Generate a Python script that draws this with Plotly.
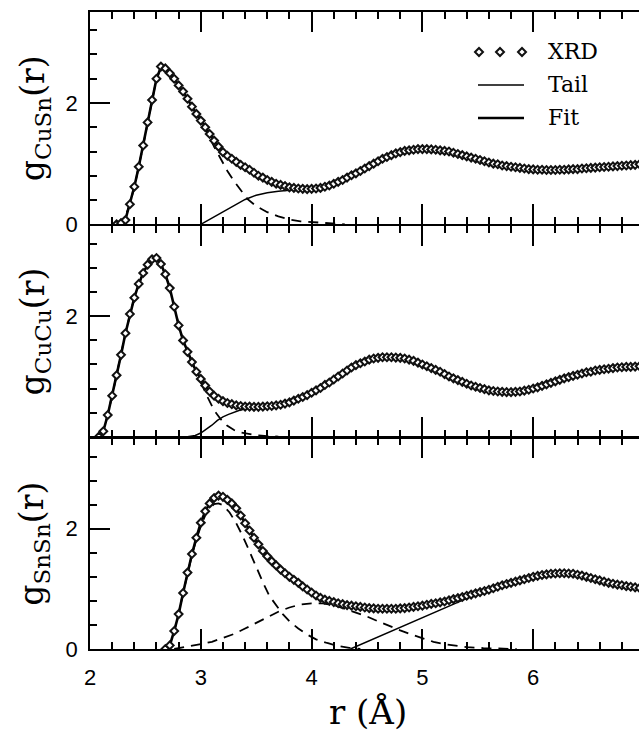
import plotly.graph_objects as go

# ---------------- data ----------------
R_STEP = 0.04

# g_CuSn(r)  XRD, r from 2.24 in steps of 0.04
cusn_r0 = 2.24
g_cusn_xrd = [
    0.00, 0.02, 0.07, 0.33, 0.62, 0.95, 1.30, 1.68, 2.05, 2.40,
    2.60, 2.57, 2.49, 2.40, 2.29, 2.19, 2.07, 1.94, 1.82, 1.71,
    1.60, 1.49, 1.38, 1.28, 1.19, 1.13, 1.08, 1.03, 0.98, 0.94,
    0.90, 0.85, 0.80, 0.77, 0.73, 0.70, 0.67, 0.65, 0.63, 0.61,
    0.60, 0.59, 0.585, 0.58, 0.585, 0.59, 0.60, 0.62, 0.64, 0.67,
    0.70, 0.73, 0.77, 0.81, 0.84, 0.88, 0.92, 0.96, 1.00, 1.04,
    1.08, 1.11, 1.14, 1.17, 1.19, 1.21, 1.22, 1.23, 1.24, 1.24,
    1.24, 1.235, 1.23, 1.22, 1.21, 1.20, 1.18, 1.16, 1.14, 1.12,
    1.10, 1.08, 1.06, 1.04, 1.02, 1.00, 0.99, 0.97, 0.96, 0.95,
    0.94, 0.93, 0.92, 0.91, 0.905, 0.90, 0.90, 0.895, 0.895, 0.895,
    0.90, 0.90, 0.905, 0.91, 0.91, 0.92, 0.925, 0.93, 0.935, 0.94,
    0.945, 0.95, 0.955, 0.96, 0.965, 0.97, 0.975, 0.98, 0.99,
]
cusn_fit_r = [2.24, 2.28, 2.32, 2.36, 2.40, 2.44, 2.48, 2.52, 2.56, 2.60,
              2.64, 2.68, 2.72, 2.76, 2.80, 2.86, 2.92, 2.98, 3.04, 3.10, 3.16,
              3.24, 3.32, 3.40, 3.50, 3.60, 3.70, 3.80, 3.90, 4.00,
              4.10, 4.20, 4.30, 4.40, 4.50, 4.60, 4.70, 4.80, 4.90, 5.00, 5.10, 5.20, 5.30, 5.40,
              5.60, 5.80, 6.00, 6.20, 6.40, 6.60, 6.80, 6.96]
cusn_fit_g = [0.00, 0.02, 0.08, 0.33, 0.62, 0.95, 1.30, 1.68, 2.05, 2.40,
              2.59, 2.57, 2.49, 2.40, 2.29, 2.13, 1.94, 1.77, 1.60, 1.43, 1.28,
              1.13, 1.03, 0.94, 0.83, 0.73, 0.66, 0.61, 0.585, 0.585,
              0.61, 0.67, 0.75, 0.84, 0.94, 1.04, 1.13, 1.19, 1.225, 1.24, 1.235, 1.21, 1.17, 1.12,
              1.02, 0.95, 0.905, 0.895, 0.91, 0.94, 0.965, 0.99]
cusn_peak_r = [2.24, 2.30, 2.36, 2.42, 2.48, 2.54, 2.60, 2.64, 2.70, 2.76, 2.82, 2.88, 2.94,
               3.00, 3.06, 3.12, 3.18, 3.24, 3.30, 3.36, 3.42, 3.50, 3.60, 3.70, 3.80, 3.90,
               4.00, 4.10, 4.20, 4.30]
cusn_peak_g = [0.00, 0.04, 0.33, 0.78, 1.30, 1.87, 2.40, 2.58, 2.53, 2.40, 2.24, 2.07, 1.88,
               1.70, 1.50, 1.28, 1.07, 0.88, 0.71, 0.56, 0.42, 0.30, 0.20, 0.13, 0.08, 0.05,
               0.035, 0.02, 0.01, 0.00]
cusn_tail_r = [3.00, 3.10, 3.20, 3.30, 3.40, 3.50, 3.60, 3.70, 3.80, 3.90, 4.00, 4.10, 4.20,
               4.40, 4.60, 4.80, 5.00, 5.20, 5.40, 5.60, 5.80, 6.00, 6.20, 6.40, 6.60, 6.80, 6.96]
cusn_tail_g = [0.00, 0.10, 0.20, 0.31, 0.41, 0.48, 0.52, 0.545, 0.56, 0.58, 0.585, 0.61, 0.67,
               0.84, 1.04, 1.19, 1.24, 1.21, 1.12, 1.02, 0.95, 0.905, 0.895, 0.91, 0.94, 0.965, 0.99]

# g_CuCu(r)  XRD, r from 2.08 in steps of 0.04
cucu_r0 = 2.08
g_cucu_xrd = [
    0.00, 0.09, 0.36, 0.68, 1.02, 1.36, 1.72, 2.04, 2.31, 2.54,
    2.72, 2.86, 2.95, 2.97, 2.87, 2.70, 2.47, 2.16, 1.85, 1.60,
    1.41, 1.24, 1.08, 0.96, 0.85, 0.75, 0.68, 0.63, 0.59, 0.56,
    0.54, 0.52, 0.51, 0.50, 0.50, 0.495, 0.495, 0.50, 0.505, 0.51,
    0.52, 0.53, 0.55, 0.57, 0.60, 0.63, 0.66, 0.69, 0.73, 0.77,
    0.81, 0.86, 0.90, 0.95, 1.00, 1.05, 1.10, 1.15, 1.19, 1.22,
    1.25, 1.28, 1.30, 1.31, 1.32, 1.32, 1.32, 1.315, 1.31, 1.30,
    1.28, 1.26, 1.23, 1.20, 1.17, 1.14, 1.11, 1.08, 1.04, 1.00,
    0.97, 0.94, 0.91, 0.88, 0.85, 0.83, 0.81, 0.79, 0.77, 0.76,
    0.75, 0.745, 0.74, 0.74, 0.745, 0.75, 0.765, 0.78, 0.80, 0.82,
    0.845, 0.87, 0.895, 0.92, 0.945, 0.97, 0.99, 1.01, 1.03, 1.05,
    1.07, 1.08, 1.10, 1.11, 1.12, 1.13, 1.14, 1.15, 1.155, 1.16,
    1.16, 1.165, 1.17,
]
cucu_fit_r = [2.08, 2.12, 2.16, 2.20, 2.24, 2.28, 2.32, 2.36, 2.40, 2.44,
              2.48, 2.52, 2.56, 2.60, 2.64, 2.68, 2.72, 2.76, 2.80, 2.84,
              2.88, 2.92, 2.96, 3.00, 3.06, 3.12, 3.20, 3.30, 3.40, 3.50, 3.60,
              3.80, 4.00, 4.20, 4.40, 4.60, 4.80, 5.00, 5.20, 5.40, 5.60, 5.80,
              6.00, 6.20, 6.40, 6.60, 6.80, 6.96]
cucu_fit_g = [0.00, 0.09, 0.36, 0.68, 1.02, 1.36, 1.72, 2.04, 2.31, 2.54,
              2.72, 2.86, 2.95, 2.97, 2.87, 2.70, 2.47, 2.16, 1.85, 1.60,
              1.41, 1.24, 1.08, 0.96, 0.80, 0.68, 0.59, 0.52, 0.50, 0.495, 0.505,
              0.57, 0.73, 0.95, 1.19, 1.31, 1.31, 1.20, 1.04, 0.88, 0.77, 0.74,
              0.80, 0.92, 1.03, 1.11, 1.155, 1.17]
cucu_peak_r = [2.08, 2.14, 2.20, 2.26, 2.32, 2.38, 2.44, 2.50, 2.56, 2.60, 2.64, 2.70, 2.76,
               2.82, 2.88, 2.94, 3.00, 3.06, 3.12, 3.18, 3.24, 3.30, 3.36, 3.44, 3.52, 3.60, 3.70]
cucu_peak_g = [0.00, 0.22, 0.68, 1.19, 1.72, 2.17, 2.54, 2.79, 2.95, 2.97, 2.87, 2.59, 2.16,
               1.72, 1.41, 1.15, 0.90, 0.66, 0.44, 0.29, 0.18, 0.11, 0.07, 0.04, 0.02, 0.01, 0.00]
cucu_tail_r = [2.88, 2.95, 3.00, 3.05, 3.10, 3.15, 3.20, 3.25, 3.30, 3.35, 3.40, 3.45, 3.50, 3.60,
               3.80, 4.00, 4.20, 4.40, 4.60, 4.80, 5.00, 5.20, 5.40, 5.60, 5.80, 6.00, 6.20,
               6.40, 6.60, 6.80, 6.96]
cucu_tail_g = [0.00, 0.02, 0.06, 0.12, 0.19, 0.27, 0.33, 0.37, 0.41, 0.44, 0.46, 0.48, 0.49, 0.505,
               0.57, 0.73, 0.95, 1.19, 1.31, 1.31, 1.20, 1.04, 0.88, 0.77, 0.74, 0.80, 0.92,
               1.03, 1.11, 1.155, 1.17]

# g_SnSn(r)  XRD, r from 2.68 in steps of 0.04
snsn_r0 = 2.68
g_snsn_xrd = [
    0.00, 0.06, 0.30, 0.58, 0.93, 1.27, 1.58, 1.85, 2.10, 2.29,
    2.42, 2.51, 2.55, 2.53, 2.48, 2.42, 2.34, 2.22, 2.09, 1.97,
    1.85, 1.74, 1.63, 1.54, 1.46, 1.39, 1.32, 1.26, 1.20, 1.15,
    1.10, 1.04, 0.99, 0.94, 0.89, 0.85, 0.82, 0.80, 0.78, 0.76,
    0.745, 0.73, 0.72, 0.71, 0.70, 0.69, 0.68, 0.675, 0.67, 0.67,
    0.67, 0.67, 0.67, 0.675, 0.68, 0.69, 0.70, 0.71, 0.72, 0.735,
    0.75, 0.76, 0.775, 0.79, 0.81, 0.83, 0.845, 0.865, 0.885, 0.905,
    0.925, 0.945, 0.965, 0.985, 1.01, 1.035, 1.06, 1.08, 1.10, 1.12,
    1.14, 1.16, 1.18, 1.20, 1.215, 1.23, 1.24, 1.25, 1.255, 1.26,
    1.26, 1.255, 1.25, 1.235, 1.22, 1.20, 1.18, 1.16, 1.14, 1.12,
    1.10, 1.085, 1.07, 1.06, 1.045, 1.035, 1.025, 1.015,
]
snsn_fit_r = [2.68, 2.72, 2.76, 2.80, 2.84, 2.88, 2.92, 2.96, 3.00, 3.04, 3.08, 3.12, 3.16, 3.20,
              3.26, 3.32, 3.40, 3.48, 3.56, 3.64, 3.72, 3.80, 3.90, 4.00, 4.10, 4.20,
              4.40, 4.60, 4.80, 5.00, 5.20, 5.40, 5.60, 5.80, 6.00, 6.20, 6.40, 6.60, 6.80, 6.96]
snsn_fit_g = [0.00, 0.06, 0.30, 0.58, 0.93, 1.27, 1.58, 1.85, 2.10, 2.29, 2.42, 2.51, 2.55, 2.53,
              2.46, 2.34, 2.09, 1.85, 1.63, 1.46, 1.32, 1.20, 1.07, 0.94, 0.835, 0.78,
              0.71, 0.67, 0.675, 0.72, 0.79, 0.885, 0.985, 1.10, 1.20, 1.255, 1.235, 1.14, 1.06, 1.015]
snsn_peak1_r = [2.68, 2.72, 2.76, 2.80, 2.84, 2.88, 2.92, 2.96, 3.00, 3.04, 3.08, 3.12, 3.16, 3.20,
                3.26, 3.32, 3.38, 3.44, 3.50, 3.56, 3.62, 3.68, 3.74, 3.80,
                3.88, 3.96, 4.04, 4.14, 4.24, 4.34, 4.44]
snsn_peak1_g = [0.00, 0.06, 0.30, 0.58, 0.93, 1.26, 1.56, 1.82, 2.04, 2.22, 2.34, 2.41, 2.42, 2.39,
                2.27, 2.09, 1.87, 1.62, 1.36, 1.11, 0.88, 0.72, 0.58, 0.46,
                0.34, 0.24, 0.16, 0.10, 0.05, 0.02, 0.00]
snsn_peak2_r = [2.76, 2.90, 3.00, 3.10, 3.20, 3.30, 3.40, 3.50, 3.60, 3.70, 3.80, 3.90, 4.00, 4.10,
                4.20, 4.30, 4.40, 4.50, 4.60, 4.70, 4.80, 4.90, 5.00, 5.10, 5.20, 5.30, 5.40,
                5.55, 5.70, 5.85]
snsn_peak2_g = [0.00, 0.04, 0.08, 0.12, 0.18, 0.25, 0.34, 0.43, 0.53, 0.62, 0.69, 0.74, 0.76, 0.76,
                0.73, 0.67, 0.61, 0.54, 0.46, 0.38, 0.31, 0.24, 0.18, 0.12, 0.08, 0.05, 0.03,
                0.015, 0.005, 0.00]
snsn_tail_r = [4.35, 4.50, 4.60, 4.70, 4.80, 4.90, 5.00, 5.10, 5.20, 5.30, 5.40, 5.50, 5.60,
               5.80, 6.00, 6.20, 6.40, 6.60, 6.80, 6.96]
snsn_tail_g = [0.00, 0.12, 0.20, 0.28, 0.36, 0.44, 0.52, 0.60, 0.68, 0.76, 0.84, 0.92, 0.985,
               1.10, 1.20, 1.255, 1.235, 1.14, 1.06, 1.015]

x_ticks = [2, 3, 4, 5, 6]
y_label_html = ["g<sub>CuSn</sub>(r)", "g<sub>CuCu</sub>(r)", "g<sub>SnSn</sub>(r)"]
legend_labels = ["XRD", "Tail", "Fit"]


def grid(r0, vals):
    return [round(r0 + i * R_STEP, 2) for i in range(len(vals))]


panels = [
    dict(xrd_r=grid(cusn_r0, g_cusn_xrd), xrd_g=g_cusn_xrd, fit=(cusn_fit_r, cusn_fit_g),
         peaks=[(cusn_peak_r, cusn_peak_g)], tail=(cusn_tail_r, cusn_tail_g), yticks=[0, 2]),
    dict(xrd_r=grid(cucu_r0, g_cucu_xrd), xrd_g=g_cucu_xrd, fit=(cucu_fit_r, cucu_fit_g),
         peaks=[(cucu_peak_r, cucu_peak_g)], tail=(cucu_tail_r, cucu_tail_g), yticks=[2]),
    dict(xrd_r=grid(snsn_r0, g_snsn_xrd), xrd_g=g_snsn_xrd, fit=(snsn_fit_r, snsn_fit_g),
         peaks=[(snsn_peak1_r, snsn_peak1_g), (snsn_peak2_r, snsn_peak2_g)],
         tail=(snsn_tail_r, snsn_tail_g), yticks=[0, 2]),
]

# ---------------- figure ----------------
W, H = 639, 736
ML, MR, MT, MB = 90, 0, 12, 87
PW, PH = W - ML - MR, H - MT - MB
LW = 1.8  # axis line width


def px(xp):
    return (xp - ML) / PW


def py(yp):
    return (H - MB - yp) / PH


fig = go.Figure()
DASH = "10px,7px"
# lower panels are trimmed by one line width so that shared borders coincide
shift = LW / PH
domains = [[2 / 3, 1.0], [1 / 3, 2 / 3 - shift], [0.0, 1 / 3 - shift]]

for i, p in enumerate(panels):
    n = "" if i == 0 else str(i + 1)
    xa, ya = "x" + n, "y" + n
    for (pr, pg) in p["peaks"]:
        fig.add_trace(go.Scatter(x=pr, y=pg, mode="lines", xaxis=xa, yaxis=ya,
                                 line=dict(color="black", width=1.8, dash=DASH), showlegend=False))
    fig.add_trace(go.Scatter(x=p["tail"][0], y=p["tail"][1], mode="lines", xaxis=xa, yaxis=ya,
                             line=dict(color="black", width=1.5), showlegend=False))
    fig.add_trace(go.Scatter(x=p["fit"][0], y=p["fit"][1], mode="lines", xaxis=xa, yaxis=ya,
                             line=dict(color="black", width=2.6), showlegend=False))
    fig.add_trace(go.Scatter(x=p["xrd_r"], y=p["xrd_g"], mode="markers", xaxis=xa, yaxis=ya,
                             marker=dict(symbol="diamond", size=6, color="white",
                                         line=dict(color="#111111", width=2)),
                             showlegend=False))

    axis_common = dict(showline=True, linecolor="black", linewidth=LW, ticks="inside",
                       tickcolor="black", tickwidth=1.6, showgrid=False, zeroline=False,
                       automargin=False)
    fig.layout["xaxis" + n] = dict(
        axis_common, domain=[0, 1], anchor=ya, range=[2, 2 + PW / 110.8],
        tickmode="array", tickvals=x_ticks, ticktext=[str(v) for v in x_ticks], ticklen=20,
        mirror="allticks", showticklabels=(i == 2), ticklabelstandoff=8,
        minor=dict(ticks="inside", dtick=0.2, tick0=2, ticklen=7, tickwidth=1.6, tickcolor="black"),
        tickfont=dict(family="Liberation Sans", size=22, color="black"),
    )
    fig.layout["yaxis" + n] = dict(
        axis_common, domain=domains[i], anchor=xa, range=[0, 3.5],
        tickmode="array", tickvals=p["yticks"], ticktext=[str(v) for v in p["yticks"]], ticklen=20,
        mirror=False, ticklabelstandoff=6,
        minor=dict(ticks="inside", dtick=0.4, tick0=0, ticklen=7, tickwidth=1.6, tickcolor="black"),
        tickfont=dict(family="Liberation Sans", size=22, color="black"),
    )
    fig.add_annotation(xref="paper", yref="paper", x=px(34), y=(domains[i][0] + domains[i][1]) / 2,
                       text=y_label_html[i], textangle=-90, showarrow=False,
                       xanchor="center", yanchor="middle",
                       font=dict(family="DejaVu Serif", size=33, color="black"))

# x-axis title
fig.add_annotation(xref="paper", yref="paper", x=px(368), y=py(712), text="r (Å)", showarrow=False,
                   xanchor="center", yanchor="middle",
                   font=dict(family="DejaVu Serif", size=34, color="black"))

# legend (drawn by hand, top panel)
shapes = []
for cx in (479, 500, 522):
    d = 4.0
    path = "M {} {} L {} {} L {} {} L {} {} Z".format(
        px(cx - d), py(52), px(cx), py(52 - d), px(cx + d), py(52), px(cx), py(52 + d))
    shapes.append(dict(type="path", xref="paper", yref="paper", path=path,
                       fillcolor="white", line=dict(color="#111111", width=2)))
shapes.append(dict(type="line", xref="paper", yref="paper", x0=px(478), x1=px(524),
                   y0=py(85), y1=py(85), line=dict(color="black", width=1.5)))
shapes.append(dict(type="line", xref="paper", yref="paper", x0=px(478), x1=px(524),
                   y0=py(118), y1=py(118), line=dict(color="black", width=2.6)))
fig.update_layout(shapes=shapes)
for lab, yy in zip(legend_labels, (52, 85, 118)):
    fig.add_annotation(xref="paper", yref="paper", x=px(546), y=py(yy), text=lab, showarrow=False,
                       xanchor="left", yanchor="middle",
                       font=dict(family="DejaVu Serif", size=22, color="black"))

fig.update_layout(width=W, height=H, margin=dict(l=ML, r=MR, t=MT, b=MB, autoexpand=False),
                  paper_bgcolor="white", plot_bgcolor="white", showlegend=False)

# remove the browser's default 8px page margin so the figure sits at the window origin
fig.write_html("out.html", config={"displayModeBar": False},
               post_script="document.body.style.margin='0';document.body.style.overflow='hidden';")
